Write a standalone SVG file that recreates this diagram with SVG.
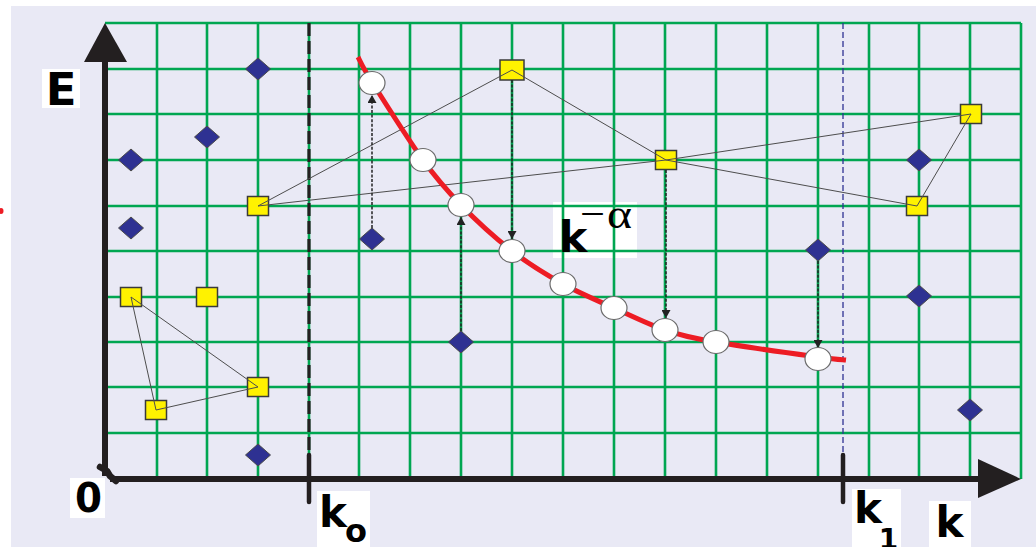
<svg xmlns="http://www.w3.org/2000/svg" width="1036" height="547" viewBox="0 0 1036 547">
<defs>
<style>
.grid line{stroke:#00A651;stroke-width:2.6}
.sq{fill:#FFF200;stroke:#3a3a3a;stroke-width:1.5}
.dm{fill:#2E3192;stroke:#4a4a4a;stroke-width:1}
.cr{fill:#fff;stroke:#6a6a6a;stroke-width:1.2}
.thin{stroke:#4d4d4d;stroke-width:1;fill:none}
.dot{stroke:#222;stroke-width:1.5;stroke-dasharray:3 1.6;fill:none}
.lbl{font-family:"DejaVu Sans",Verdana,sans-serif;font-weight:bold;fill:#000;text-anchor:middle}
.sym{font-family:"Liberation Serif","DejaVu Serif",serif;fill:#000}
.box{fill:#fff}
.ax{stroke:#231F20;fill:none}
</style>
<marker id="ah" markerUnits="userSpaceOnUse" markerWidth="8" markerHeight="9" viewBox="0 0 8 9" refX="8" refY="4.5" orient="auto"><path d="M0,0 L8,4.5 L0,9 Z" fill="#222"/></marker>
</defs>
<rect x="0" y="0" width="1036" height="547" fill="#fff"/>
<rect x="11" y="6" width="1025" height="541" fill="#E9E9F5"/>
<ellipse cx="1" cy="211" rx="2.5" ry="3" fill="#ED1C24"/>
<g id="label-boxes">
<rect class="box" x="42" y="69" width="38" height="39"/>
<rect class="box" x="70" y="478" width="35" height="40"/>
<rect class="box" x="317" y="491" width="53" height="56"/>
<rect class="box" x="852" y="489" width="49" height="58"/>
<rect class="box" x="929" y="501" width="42" height="46"/>
<rect class="box" x="553" y="202" width="84" height="56"/>
</g>
<g class="grid" id="grid">
<line x1="157" y1="23" x2="157" y2="479"/><line x1="207" y1="23" x2="207" y2="479"/><line x1="258" y1="23" x2="258" y2="479"/><line x1="309" y1="23" x2="309" y2="479"/><line x1="359" y1="23" x2="359" y2="479"/><line x1="410" y1="23" x2="410" y2="479"/><line x1="461" y1="23" x2="461" y2="479"/><line x1="512" y1="23" x2="512" y2="479"/><line x1="563" y1="23" x2="563" y2="479"/><line x1="614" y1="23" x2="614" y2="479"/><line x1="665" y1="23" x2="665" y2="479"/><line x1="716" y1="23" x2="716" y2="479"/><line x1="767" y1="23" x2="767" y2="479"/><line x1="818" y1="23" x2="818" y2="479"/><line x1="869" y1="23" x2="869" y2="479"/><line x1="919" y1="23" x2="919" y2="479"/><line x1="970" y1="23" x2="970" y2="479"/><line x1="1021" y1="23" x2="1021" y2="479"/>
<line x1="105" y1="23" x2="1021" y2="23"/><line x1="105" y1="69" x2="1021" y2="69"/><line x1="105" y1="114" x2="1021" y2="114"/><line x1="105" y1="160" x2="1021" y2="160"/><line x1="105" y1="206" x2="1021" y2="206"/><line x1="105" y1="251" x2="1021" y2="251"/><line x1="105" y1="297" x2="1021" y2="297"/><line x1="105" y1="342" x2="1021" y2="342"/><line x1="105" y1="387" x2="1021" y2="387"/><line x1="105" y1="433" x2="1021" y2="433"/>
</g>
<g id="bounds">
<line x1="309" y1="23" x2="309" y2="455" stroke="#231F20" stroke-width="3.2" stroke-dasharray="13 5"/>
<line x1="843" y1="23" x2="843" y2="455" stroke="#2E3192" stroke-width="1.3" stroke-dasharray="6 3"/>
<line class="ax" x1="309" y1="455" x2="309" y2="502" stroke-width="4.5" stroke-linecap="round"/>
<line class="ax" x1="843" y1="455" x2="843" y2="502" stroke-width="4.5" stroke-linecap="round"/>
</g>
<g id="axes">
<line class="ax" x1="105" y1="476" x2="105" y2="58" stroke-width="6"/>
<polygon points="84,62 105,23 127,62" fill="#231F20"/>
<line class="ax" x1="110" y1="479" x2="982" y2="479" stroke-width="6"/>
<polygon points="978,459 1021,479 978,498" fill="#231F20"/>
<path class="ax" d="M100,467 L107,471 L110,476 L116,481" stroke-width="6.5" stroke-linecap="round" stroke-linejoin="round"/>
</g>
<g id="squares">
<rect class="sq" x="120.5" y="287.5" width="21" height="19"/>
<rect class="sq" x="196.5" y="287.5" width="21" height="19"/>
<rect class="sq" x="247.5" y="377.5" width="21" height="19"/>
<rect class="sq" x="145.5" y="400.5" width="21" height="19"/>
<rect class="sq" x="247.5" y="196.5" width="21" height="19"/>
<rect class="sq" x="500" y="60" width="24" height="20"/>
<rect class="sq" x="655.5" y="150.5" width="21" height="19"/>
<rect class="sq" x="960.5" y="104.5" width="21" height="19"/>
<rect class="sq" x="906.5" y="196.5" width="21" height="19"/>
</g>
<g id="connectors">
<path class="thin" d="M131,297 L258,387 L156,410 Z"/>
<path class="thin" d="M258,206 L512,70 L666,160 L917,206 L971,114 L666,160 L258,206"/>
</g>
<g id="curve">
<path d="M358,57 C360.3,61.2 361.2,64.8 372,82 C382.8,99.2 408.2,139.5 423,160 C437.8,180.5 446.2,189.8 461,205 C475.8,220.2 495,237.8 512,251 C529,264.2 546,274.5 563,284 C580,293.5 597,300.3 614,308 C631,315.7 648,324.3 665,330 C682,335.7 690.5,337.5 716,342 C741.5,346.5 796.3,354 818,357 C839.7,360 841.3,359.5 846,360" fill="none" stroke="#ED1C24" stroke-width="5"/>
</g>
<g id="diamonds">
<path class="dm" d="M258,58 l12.5,11 l-12.5,11 l-12.5,-11 Z"/>
<path class="dm" d="M207,126 l12.5,11 l-12.5,11 l-12.5,-11 Z"/>
<path class="dm" d="M131,149 l12.5,11 l-12.5,11 l-12.5,-11 Z"/>
<path class="dm" d="M131,217 l12.5,11 l-12.5,11 l-12.5,-11 Z"/>
<path class="dm" d="M258,444 l12.5,11 l-12.5,11 l-12.5,-11 Z"/>
<path class="dm" d="M372,228 l12.5,11 l-12.5,11 l-12.5,-11 Z"/>
<path class="dm" d="M461,331 l12.5,11 l-12.5,11 l-12.5,-11 Z"/>
<path class="dm" d="M818,239 l12.5,11 l-12.5,11 l-12.5,-11 Z"/>
<path class="dm" d="M919,149 l12.5,11 l-12.5,11 l-12.5,-11 Z"/>
<path class="dm" d="M919,285 l12.5,11 l-12.5,11 l-12.5,-11 Z"/>
<path class="dm" d="M970,399 l12.5,11 l-12.5,11 l-12.5,-11 Z"/>
</g>
<g id="arrows">
<line class="dot" x1="372" y1="228" x2="372" y2="95" marker-end="url(#ah)"/>
<line class="dot" x1="512" y1="80" x2="512" y2="239" marker-end="url(#ah)"/>
<line class="dot" x1="461" y1="331" x2="461" y2="217" marker-end="url(#ah)"/>
<line class="dot" x1="666" y1="170" x2="666" y2="318" marker-end="url(#ah)"/>
<line class="dot" x1="818" y1="261" x2="818" y2="348" marker-end="url(#ah)"/>
</g>
<g id="circles">
<ellipse class="cr" cx="372" cy="83" rx="13" ry="11.5"/>
<ellipse class="cr" cx="423" cy="160" rx="13" ry="11.5"/>
<ellipse class="cr" cx="461" cy="205" rx="13" ry="11.5"/>
<ellipse class="cr" cx="512" cy="251" rx="13" ry="11.5"/>
<ellipse class="cr" cx="563" cy="284" rx="13" ry="11.5"/>
<ellipse class="cr" cx="614" cy="308" rx="13" ry="11.5"/>
<ellipse class="cr" cx="665" cy="330" rx="13" ry="11.5"/>
<ellipse class="cr" cx="716" cy="342" rx="13" ry="11.5"/>
<ellipse class="cr" cx="818" cy="359" rx="13" ry="11.5"/>
</g>
<g id="labels">
<text class="lbl" x="61" y="105" font-size="45">E</text>
<text class="lbl" x="75" y="512" font-size="40" text-anchor="start" textLength="27" lengthAdjust="spacingAndGlyphs" style="text-anchor:start">0</text>
<text class="lbl" x="333" y="527" font-size="42">k</text>
<text class="lbl" x="356" y="542" font-size="32">o</text>
<text class="lbl" x="868" y="523" font-size="42">k</text>
<text class="lbl" x="888.5" y="549" font-size="28">1</text>
<text class="lbl" x="949.5" y="537" font-size="42">k</text>
<text class="lbl" x="573" y="252" font-size="43">k</text>
<text class="sym" x="580" y="227" font-size="40" textLength="25" lengthAdjust="spacingAndGlyphs">−</text>
<text class="sym" x="607" y="228" font-size="42" textLength="25" lengthAdjust="spacingAndGlyphs">α</text>
</g>
</svg>
